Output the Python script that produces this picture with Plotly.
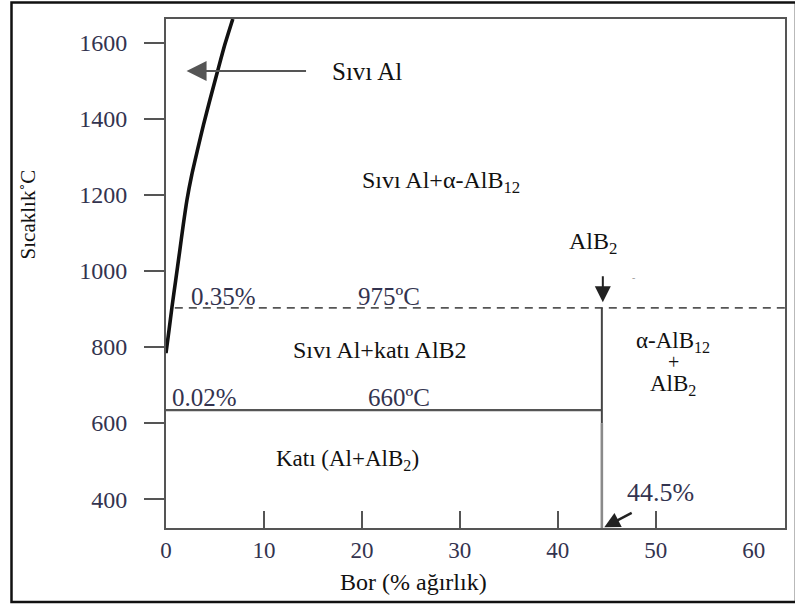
import plotly.graph_objects as go

# ---------------- data ----------------
liquidus_bor = [0.0, 0.31, 0.61, 0.99, 1.37, 1.76, 2.14, 2.63, 3.21, 3.82, 4.48, 5.27, 6.0, 6.82]
liquidus_temp = [784, 845, 905, 976, 1047, 1121, 1187, 1253, 1318, 1384, 1450, 1526, 1595, 1663]

upper_isotherm_temp = 903      # line labelled 975ºC
upper_isotherm_start = 0.9
lower_isotherm_temp = 634      # line labelled 660ºC
vertical_split_temp = 600
alb2_bor = 44.5

x_range = [0, 63.2]
y_range = [324, 1663]

x_tick_vals = [0, 10, 20, 30, 40, 50, 60]
x_tick_text = ["0", "10", "20", "30", "40", "50", "60"]
x_tick_marks = [10, 20, 30, 40, 50]
y_tick_vals = [400, 600, 800, 1000, 1200, 1400, 1600]
y_tick_text = ["400", "600", "800", "1000", "1200", "1400", "1600"]

SERIF = "Liberation Serif, Times New Roman, DejaVu Serif, serif"
NUM_COL = "#33334f"
TXT_COL = "#111111"
LINE_COL = "#555555"

fig = go.Figure()

# liquidus curve
fig.add_trace(go.Scatter(x=liquidus_bor, y=liquidus_temp, mode="lines",
                         line=dict(color="#111111", width=3.6, shape="spline", smoothing=0.6),
                         cliponaxis=True))
# dashed isotherm
fig.add_trace(go.Scatter(x=[upper_isotherm_start, x_range[1]],
                         y=[upper_isotherm_temp, upper_isotherm_temp], mode="lines",
                         line=dict(color=LINE_COL, width=1.6, dash="8px,6px")))
# solid isotherm
fig.add_trace(go.Scatter(x=[0, alb2_bor], y=[lower_isotherm_temp, lower_isotherm_temp],
                         mode="lines", line=dict(color=LINE_COL, width=2.2)))
# AlB2 vertical line
fig.add_trace(go.Scatter(x=[alb2_bor, alb2_bor], y=[upper_isotherm_temp, vertical_split_temp],
                         mode="lines", line=dict(color="#444444", width=2)))
fig.add_trace(go.Scatter(x=[alb2_bor, alb2_bor], y=[vertical_split_temp, y_range[0]],
                         mode="lines", line=dict(color="#8a8a8a", width=2.6)))
# invisible trace to carry the tick-mark axis
fig.add_trace(go.Scatter(x=[x_range[0]], y=[y_range[0]], xaxis="x2", mode="markers",
                         marker=dict(opacity=0), hoverinfo="skip"))


def txt(x, y, s, size=24, color=TXT_COL, xanchor="center"):
    fig.add_annotation(x=x, y=y, xref="x", yref="y", text=s, showarrow=False,
                       xanchor=xanchor, yanchor="middle",
                       font=dict(family=SERIF, size=size, color=color))


def arrow(x0, y0, x1, y1, color="#333333", width=2, size=1.4, head=2):
    fig.add_annotation(x=x1, y=y1, ax=x0, ay=y0, xref="x", yref="y", axref="x", ayref="y",
                       text="", showarrow=True, arrowhead=head, arrowsize=size,
                       arrowwidth=width, arrowcolor=color)


# region labels
txt(16.7, 1526, "Sıvı Al", size=25, xanchor="left")
arrow(14.45, 1526, 2.1, 1526, color="#555555", width=2, size=2.0)
txt(28.1, 1234, "Sıvı Al+α-AlB<sub>12</sub>")
txt(43.6, 1074, "AlB<sub>2</sub>")
arrow(44.6, 990, 44.6, 918, color="#222222", width=2, size=1.6)
txt(47.7, 983, "-", size=10, color="#999999")
txt(2.3, 934, "0.35%", size=25, color=NUM_COL, xanchor="left")
txt(22.8, 934, "975ºC", size=25, color=NUM_COL)
txt(21.8, 792, "Sıvı Al+katı AlB2")
txt(0.4, 668, "0.02%", size=25, color=NUM_COL, xanchor="left")
txt(23.8, 668, "660ºC", size=25, color=NUM_COL)
txt(18.5, 503, "Katı (Al+AlB<sub>2</sub>)", size=23)
txt(51.8, 814, "α-AlB<sub>12</sub>", size=23)
txt(51.8, 760, "+", size=20)
txt(51.8, 700, "AlB<sub>2</sub>", size=23)
txt(46.9, 418, "44.5%", size=26, color=NUM_COL, xanchor="left")
arrow(47.7, 366, 44.75, 326, color="#222222", width=2.4, size=1.3)

# axis titles
fig.add_annotation(x=(28 - 166) / 621, y=(528 - 214) / 509, xref="paper", yref="paper",
                   text="Sıcaklık˚C", textangle=-90, showarrow=False,
                   xanchor="center", yanchor="middle",
                   font=dict(family=SERIF, size=21, color=TXT_COL))
fig.add_annotation(x=(414 - 166) / 621, y=(528 - 582) / 509, xref="paper", yref="paper",
                   text="Bor (% ağırlık)", showarrow=False,
                   xanchor="center", yanchor="middle",
                   font=dict(family=SERIF, size=24, color=TXT_COL))

# outer frame
fig.add_shape(type="rect", xref="paper", yref="paper",
              x0=(11 - 166) / 621, x1=(798 - 166) / 621,
              y0=(528 - 602) / 509, y1=(528 - 2.5) / 509,
              line=dict(color="#111111", width=2.5), fillcolor="rgba(0,0,0,0)", layer="below")

fig.update_layout(
    width=795, height=605,
    margin=dict(l=166, r=8, t=19, b=77),
    paper_bgcolor="white", plot_bgcolor="white",
    showlegend=False,
    xaxis=dict(range=x_range, tickvals=x_tick_vals, ticktext=x_tick_text, ticks="",
               showgrid=False, zeroline=False, showline=True, mirror=True,
               linecolor=LINE_COL, linewidth=2, ticklabelstandoff=0,
               tickfont=dict(family=SERIF, size=23, color=NUM_COL)),
    xaxis2=dict(range=x_range, overlaying="x", matches="x", anchor="y", side="bottom",
                tickvals=x_tick_marks, ticks="inside", ticklen=17, tickwidth=2,
                tickcolor=LINE_COL, showticklabels=False, showgrid=False,
                zeroline=False, showline=False),
    yaxis=dict(range=y_range, tickvals=y_tick_vals, ticktext=y_tick_text,
               ticks="outside", ticklen=20, tickwidth=2, tickcolor=LINE_COL,
               showgrid=False, zeroline=False, showline=True, mirror=True,
               linecolor=LINE_COL, linewidth=2, ticklabelstandoff=12,
               tickfont=dict(family=SERIF, size=24, color=NUM_COL)),
)

fig.write_html("out.html", config={"displayModeBar": False},
               post_script="document.body.style.margin='0';")
